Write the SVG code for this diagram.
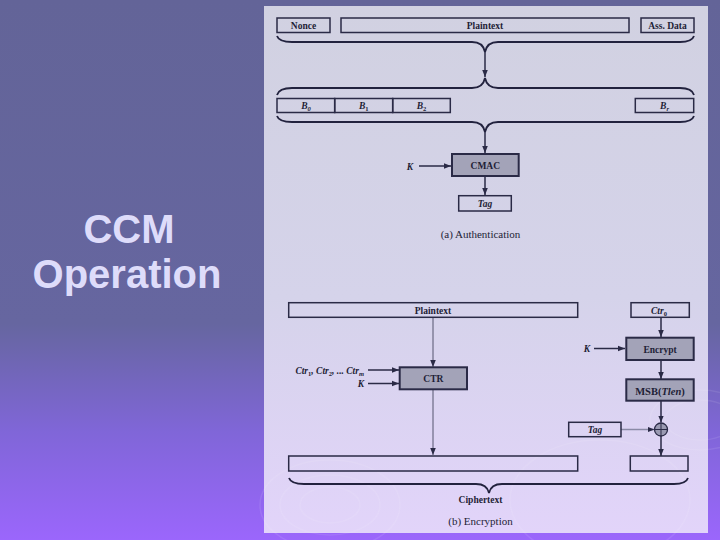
<svg xmlns="http://www.w3.org/2000/svg" width="720" height="540" viewBox="0 0 720 540">
<defs>
<linearGradient id="bg" x1="0" y1="0" x2="0" y2="1">
<stop offset="0" stop-color="#636498"/>
<stop offset="0.6" stop-color="#6666a0"/>
<stop offset="0.8" stop-color="#8066d8"/>
<stop offset="1" stop-color="#9b66fc"/>
</linearGradient>
<linearGradient id="panel" x1="0" y1="0" x2="0" y2="1">
<stop offset="0" stop-color="#d1d1e1"/>
<stop offset="0.55" stop-color="#d5d3ea"/>
<stop offset="1" stop-color="#e2d4fa"/>
</linearGradient>
<marker id="ah" viewBox="0 0 10 10" refX="10" refY="5" markerWidth="7" markerHeight="7" markerUnits="userSpaceOnUse" orient="auto">
<path d="M0,1 L10,5 L0,9 Z" fill="#2a2a46"/>
</marker>
<style>
.box{fill:none;stroke:#2a2a46;stroke-width:1.5}
.gbox{fill:#a3a3b8;stroke:#2a2a46;stroke-width:2}
.t{font-family:"Liberation Serif",serif;font-size:9.5px;font-weight:bold;fill:#1e1e36;text-anchor:middle}
.i{font-style:italic}
.cap{font-family:"Liberation Serif",serif;font-size:11px;fill:#1e1e36;text-anchor:middle}
.brace{fill:none;stroke:#22223e;stroke-width:1.8}
.ln{fill:none;stroke:#2a2a46;stroke-width:1.5}
.thin{fill:none;stroke:#55556e;stroke-width:1}
.gray{fill:none;stroke:#8a8aa6;stroke-width:1.5}
.title{font-family:"Liberation Sans",Arial,sans-serif;font-size:40px;font-weight:bold;fill:#dedcfa;text-anchor:middle}
</style>
</defs>
<rect x="0" y="0" width="720" height="540" fill="url(#bg)"/>
<g id="title">
<text class="title" x="129" y="243">CCM</text>
<text class="title" x="127" y="288">Operation</text>
</g>
<rect x="264" y="6" width="444" height="527" fill="url(#panel)"/>
<g id="swirls" fill="none" stroke="#ffffff" stroke-opacity="0.09" stroke-width="1.5">
<ellipse cx="700" cy="420" rx="50" ry="30"/>
<ellipse cx="700" cy="420" rx="35" ry="20"/>
<ellipse cx="330" cy="505" rx="70" ry="45"/>
<ellipse cx="330" cy="505" rx="50" ry="30"/>
<ellipse cx="330" cy="505" rx="30" ry="18"/>
<ellipse cx="600" cy="500" rx="90" ry="60"/>
</g>
<g id="connectors">
<path class="brace" d="M277,36 Q279,42 292,42 L472,42 Q483,42 485,52 Q487,42 498,42 L680,42 Q692,42 694,36"/>
<path class="ln" d="M485,52 L485,77" marker-end="url(#ah)"/>
<path class="brace" d="M277,95 Q279,88 292,88 L472,88 Q483,88 485,78 Q487,88 498,88 L680,88 Q692,88 694,95"/>
<path class="brace" d="M277,116 Q279,122 292,122 L472,122 Q483,122 485,132 Q487,122 498,122 L680,122 Q692,122 694,116"/>
<path class="ln" d="M485,132 L485,153" marker-end="url(#ah)"/>
<path class="ln" d="M419,166 L451,166" marker-end="url(#ah)"/>
<path class="ln" d="M485,176 L485,195" marker-end="url(#ah)"/>
<path class="thin" d="M433,318 L433,367" marker-end="url(#ah)"/>
<path class="ln" d="M368,370 L399,370" marker-end="url(#ah)"/>
<path class="ln" d="M368,383.5 L399,383.5" marker-end="url(#ah)"/>
<path class="thin" d="M433,390 L433,455" marker-end="url(#ah)"/>
<path class="ln" d="M661,318 L661,337" marker-end="url(#ah)"/>
<path class="ln" d="M594,348.5 L625,348.5" marker-end="url(#ah)"/>
<path class="ln" d="M661,360 L661,379" marker-end="url(#ah)"/>
<path class="ln" d="M661,401 L661,422.5" marker-end="url(#ah)"/>
<path class="gray" d="M621,429.5 L654.5,429.5" marker-end="url(#ah)"/>
<path class="ln" d="M661,436 L661,456" marker-end="url(#ah)"/>
<path class="brace" d="M289,478 Q291,484 304,484 L476,484 Q487,484 489,493 Q491,484 502,484 L674,484 Q686,484 688,478"/>
</g>
<g id="nonce"><rect class="box" x="277" y="18" width="53" height="14.5"/><text class="t" x="303.5" y="28.5">Nonce</text></g>
<g id="plaintext-a"><rect class="box" x="341" y="18" width="288" height="14.5"/><text class="t" x="485" y="28.5">Plaintext</text></g>
<g id="assdata"><rect class="box" x="641" y="18" width="53" height="14.5"/><text class="t" x="667.5" y="28.5">Ass. Data</text></g>
<g id="b0"><rect class="box" x="277" y="98.5" width="57.7" height="14"/><text class="t i" x="306" y="109">B<tspan font-size="6.5" dy="2">0</tspan></text></g>
<g id="b1"><rect class="box" x="334.7" y="98.5" width="58" height="14"/><text class="t i" x="363.7" y="109">B<tspan font-size="6.5" dy="2" font-style="normal">1</tspan></text></g>
<g id="b2"><rect class="box" x="392.7" y="98.5" width="57.6" height="14"/><text class="t i" x="421.5" y="109">B<tspan font-size="6.5" dy="2" font-style="normal">2</tspan></text></g>
<g id="br"><rect class="box" x="635.3" y="98.5" width="58.4" height="14"/><text class="t i" x="664.5" y="109">B<tspan font-size="6.5" dy="2">r</tspan></text></g>
<g id="cmac"><rect class="gbox" x="452" y="154" width="66.7" height="22"/><text class="t" x="485.3" y="168.5">CMAC</text></g>
<g id="k1"><text class="t i" x="410" y="170">K</text></g>
<g id="tag-a"><rect class="box" x="458.7" y="195.7" width="52.6" height="15.3"/><text class="t i" x="485" y="206.5">Tag</text></g>
<g id="cap-a"><text class="cap" x="480.5" y="237.5">(a) Authentication</text></g>
<g id="plaintext-b"><rect class="box" x="288.7" y="302.7" width="289" height="14.6"/><text class="t" x="433" y="313.5">Plaintext</text></g>
<g id="ctr0"><rect class="box" x="631" y="302.7" width="58.3" height="14.6"/><text class="t i" x="659" y="313.5">Ctr<tspan font-size="6.5" dy="2" font-style="normal">0</tspan></text></g>
<g id="k2"><text class="t i" x="587" y="352">K</text></g>
<g id="encrypt"><rect class="gbox" x="626.3" y="337.7" width="67.4" height="22.3"/><text class="t" x="660" y="352.5">Encrypt</text></g>
<g id="ctrs"><text class="t i" x="364" y="373.5" style="text-anchor:end">Ctr<tspan font-size="6.5" dy="2" font-style="normal">1</tspan><tspan dy="-2">, Ctr</tspan><tspan font-size="6.5" dy="2" font-style="normal">2</tspan><tspan dy="-2">, ... Ctr</tspan><tspan font-size="6.5" dy="2">m</tspan></text></g>
<g id="k3"><text class="t i" x="364" y="387" style="text-anchor:end">K</text></g>
<g id="ctr"><rect class="gbox" x="399.7" y="367.3" width="67.3" height="22"/><text class="t" x="433.3" y="381.5">CTR</text></g>
<g id="msb"><rect class="gbox" x="626.3" y="379.3" width="67.4" height="21.4"/><text class="t" x="660" y="394.5" style="font-size:10.5px">MSB(<tspan font-style="italic">Tlen</tspan>)</text></g>
<g id="tag-b"><rect class="box" x="568.7" y="422.3" width="52.3" height="14.4"/><text class="t i" x="595" y="433">Tag</text></g>
<g id="xor"><circle cx="661" cy="429.5" r="6.5" fill="#9a9ab2" stroke="#2a2a46" stroke-width="1.3"/><path d="M654.5,429.5 L667.5,429.5 M661,423 L661,436" stroke="#2a2a46" stroke-width="1"/></g>
<g id="cipher-main"><rect class="box" x="288.7" y="456" width="289" height="15"/></g>
<g id="cipher-tag"><rect class="box" x="630.3" y="456" width="57.7" height="15"/></g>
<g id="ciphertext"><text class="t" x="480.5" y="503">Ciphertext</text></g>
<g id="cap-b"><text class="cap" x="480.5" y="524.5">(b) Encryption</text></g>
</svg>
